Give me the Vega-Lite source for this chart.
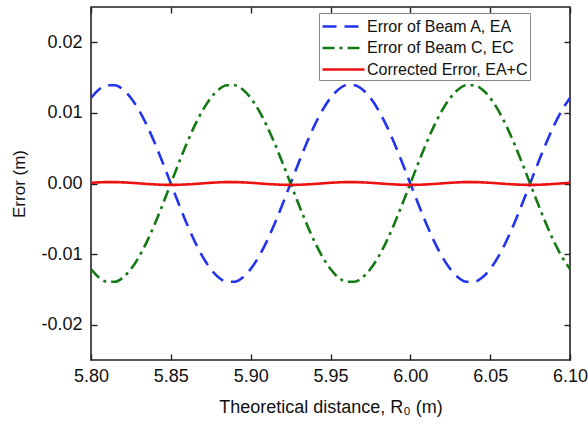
{
  "$schema": "https://vega.github.io/schema/vega-lite/v6.json",
  "width": 479,
  "height": 353,
  "autosize": {"type": "none"},
  "padding": {"left": 91, "top": 7, "right": 18, "bottom": 64},
  "background": "white",
  "config": {
    "view": {"stroke": "#222222", "strokeWidth": 1.6},
    "font": "Liberation Sans",
    "axis": {"grid": false, "domain": false, "tickColor": "#222222", "tickWidth": 1.4, "tickSize": 6, "offset": -6, "labelFont": "Liberation Sans", "titleFont": "Liberation Sans", "labelColor": "#111111", "titleColor": "#111111", "titleFontWeight": "normal"}
  },
  "data": {
    "values": [
      {"x": 5.800, "a": 0.01212, "c": -0.01212, "ac": 0.0001},
      {"x": 5.805, "a": 0.01332, "c": -0.01332, "ac": 0.00016},
      {"x": 5.810, "a": 0.01392, "c": -0.01392, "ac": 0.0002},
      {"x": 5.815, "a": 0.01392, "c": -0.01392, "ac": 0.0002},
      {"x": 5.820, "a": 0.01332, "c": -0.01332, "ac": 0.00016},
      {"x": 5.825, "a": 0.01212, "c": -0.01212, "ac": 0.0001},
      {"x": 5.830, "a": 0.01040, "c": -0.01040, "ac": 0.00002},
      {"x": 5.835, "a": 0.00823, "c": -0.00823, "ac": -0.00006},
      {"x": 5.840, "a": 0.00569, "c": -0.00569, "ac": -0.00013},
      {"x": 5.845, "a": 0.00291, "c": -0.00291, "ac": -0.00018},
      {"x": 5.850, "a": 0.0, "c": 0.0, "ac": -0.0002},
      {"x": 5.855, "a": -0.00291, "c": 0.00291, "ac": -0.00018},
      {"x": 5.860, "a": -0.00569, "c": 0.00569, "ac": -0.00013},
      {"x": 5.865, "a": -0.00823, "c": 0.00823, "ac": -0.00006},
      {"x": 5.870, "a": -0.01040, "c": 0.01040, "ac": 0.00002},
      {"x": 5.875, "a": -0.01212, "c": 0.01212, "ac": 0.0001},
      {"x": 5.880, "a": -0.01332, "c": 0.01332, "ac": 0.00016},
      {"x": 5.885, "a": -0.01392, "c": 0.01392, "ac": 0.0002},
      {"x": 5.890, "a": -0.01392, "c": 0.01392, "ac": 0.0002},
      {"x": 5.895, "a": -0.01332, "c": 0.01332, "ac": 0.00016},
      {"x": 5.900, "a": -0.01212, "c": 0.01212, "ac": 0.0001},
      {"x": 5.905, "a": -0.01040, "c": 0.01040, "ac": 0.00002},
      {"x": 5.910, "a": -0.00823, "c": 0.00823, "ac": -0.00006},
      {"x": 5.915, "a": -0.00569, "c": 0.00569, "ac": -0.00013},
      {"x": 5.920, "a": -0.00291, "c": 0.00291, "ac": -0.00018},
      {"x": 5.925, "a": 0.0, "c": 0.0, "ac": -0.0002},
      {"x": 5.930, "a": 0.00291, "c": -0.00291, "ac": -0.00018},
      {"x": 5.935, "a": 0.00569, "c": -0.00569, "ac": -0.00013},
      {"x": 5.940, "a": 0.00823, "c": -0.00823, "ac": -0.00006},
      {"x": 5.945, "a": 0.01040, "c": -0.01040, "ac": 0.00002},
      {"x": 5.950, "a": 0.01212, "c": -0.01212, "ac": 0.0001},
      {"x": 5.955, "a": 0.01332, "c": -0.01332, "ac": 0.00016},
      {"x": 5.960, "a": 0.01392, "c": -0.01392, "ac": 0.0002},
      {"x": 5.965, "a": 0.01392, "c": -0.01392, "ac": 0.0002},
      {"x": 5.970, "a": 0.01332, "c": -0.01332, "ac": 0.00016},
      {"x": 5.975, "a": 0.01212, "c": -0.01212, "ac": 0.0001},
      {"x": 5.980, "a": 0.01040, "c": -0.01040, "ac": 0.00002},
      {"x": 5.985, "a": 0.00823, "c": -0.00823, "ac": -0.00006},
      {"x": 5.990, "a": 0.00569, "c": -0.00569, "ac": -0.00013},
      {"x": 5.995, "a": 0.00291, "c": -0.00291, "ac": -0.00018},
      {"x": 6.000, "a": 0.0, "c": 0.0, "ac": -0.0002},
      {"x": 6.005, "a": -0.00291, "c": 0.00291, "ac": -0.00018},
      {"x": 6.010, "a": -0.00569, "c": 0.00569, "ac": -0.00013},
      {"x": 6.015, "a": -0.00823, "c": 0.00823, "ac": -0.00006},
      {"x": 6.020, "a": -0.01040, "c": 0.01040, "ac": 0.00002},
      {"x": 6.025, "a": -0.01212, "c": 0.01212, "ac": 0.0001},
      {"x": 6.030, "a": -0.01332, "c": 0.01332, "ac": 0.00016},
      {"x": 6.035, "a": -0.01392, "c": 0.01392, "ac": 0.0002},
      {"x": 6.040, "a": -0.01392, "c": 0.01392, "ac": 0.0002},
      {"x": 6.045, "a": -0.01332, "c": 0.01332, "ac": 0.00016},
      {"x": 6.050, "a": -0.01212, "c": 0.01212, "ac": 0.0001},
      {"x": 6.055, "a": -0.01040, "c": 0.01040, "ac": 0.00002},
      {"x": 6.060, "a": -0.00823, "c": 0.00823, "ac": -0.00006},
      {"x": 6.065, "a": -0.00569, "c": 0.00569, "ac": -0.00013},
      {"x": 6.070, "a": -0.00291, "c": 0.00291, "ac": -0.00018},
      {"x": 6.075, "a": 0.0, "c": 0.0, "ac": -0.0002},
      {"x": 6.080, "a": 0.00291, "c": -0.00291, "ac": -0.00018},
      {"x": 6.085, "a": 0.00569, "c": -0.00569, "ac": -0.00013},
      {"x": 6.090, "a": 0.00823, "c": -0.00823, "ac": -0.00006},
      {"x": 6.095, "a": 0.01040, "c": -0.01040, "ac": 0.00002},
      {"x": 6.100, "a": 0.01212, "c": -0.01212, "ac": 0.0001}
    ]
  },
  "transform": [{"fold": ["a", "c", "ac"], "as": ["series", "value"]}],
  "layer": [
    {
      "mark": {"type": "line", "strokeWidth": 2.6, "interpolate": "monotone", "clip": true},
      "encoding": {
        "x": {"field": "x", "type": "quantitative", "scale": {"domain": [5.8, 6.1], "nice": false, "zero": false},
          "axis": {"values": [5.8, 5.85, 5.9, 5.95, 6.0, 6.05, 6.1], "format": ".2f", "labelFontSize": 18, "labelPadding": 7, "title": "Theoretical distance, R₀ (m)", "titleFontSize": 18, "titlePadding": 13, "labelFlush": false}},
        "y": {"field": "value", "type": "quantitative", "scale": {"domain": [-0.025, 0.025], "nice": false, "zero": false},
          "axis": {"values": [-0.02, -0.01, 0, 0.01, 0.02], "labelExpr": "replace(format(datum.value, '.2f'), '\u2212', '-')", "labelFontSize": 18, "labelPadding": 9, "title": "Error (m)", "titleFontSize": 17, "titlePadding": 12}},
        "color": {"field": "series", "type": "nominal",
          "scale": {"domain": ["a", "c", "ac"], "range": ["#2233ee", "#137a13", "#ee1111"]},
          "legend": {"orient": "none", "legendX": 228, "legendY": 6, "title": null, "symbolType": "M-1,0H3.2", "symbolSize": 400, "symbolStrokeWidth": 2.6, "labelFontSize": 16, "labelFont": "Liberation Sans", "labelColor": "#111111", "labelOffset": 23, "labelLimit": 300, "padding": 2, "rowPadding": 1.5, "strokeColor": "#888888", "fillColor": "white",
            "labelExpr": "datum.value == 'a' ? 'Error of Beam A, EA' : datum.value == 'c' ? 'Error of Beam C, EC' : 'Corrected Error, EA+C'"}},
        "strokeDash": {"field": "series", "type": "nominal",
          "scale": {"domain": ["a", "c", "ac"], "range": [[14, 8], [12, 5, 3, 5], [1, 0]]},
          "legend": null}
      }
    },
    {
      "mark": {"type": "line", "opacity": 0},
      "encoding": {
        "x": {"field": "x", "type": "quantitative", "axis": {"orient": "top", "values": [5.8, 5.85, 5.9, 5.95, 6.0, 6.05, 6.1], "labels": false, "title": null}},
        "y": {"field": "value", "type": "quantitative", "axis": {"orient": "right", "values": [-0.02, -0.01, 0, 0.01, 0.02], "labels": false, "title": null}},
        "detail": {"field": "series"}
      }
    }
  ],
  "resolve": {"axis": {"x": "independent", "y": "independent"}}
}
